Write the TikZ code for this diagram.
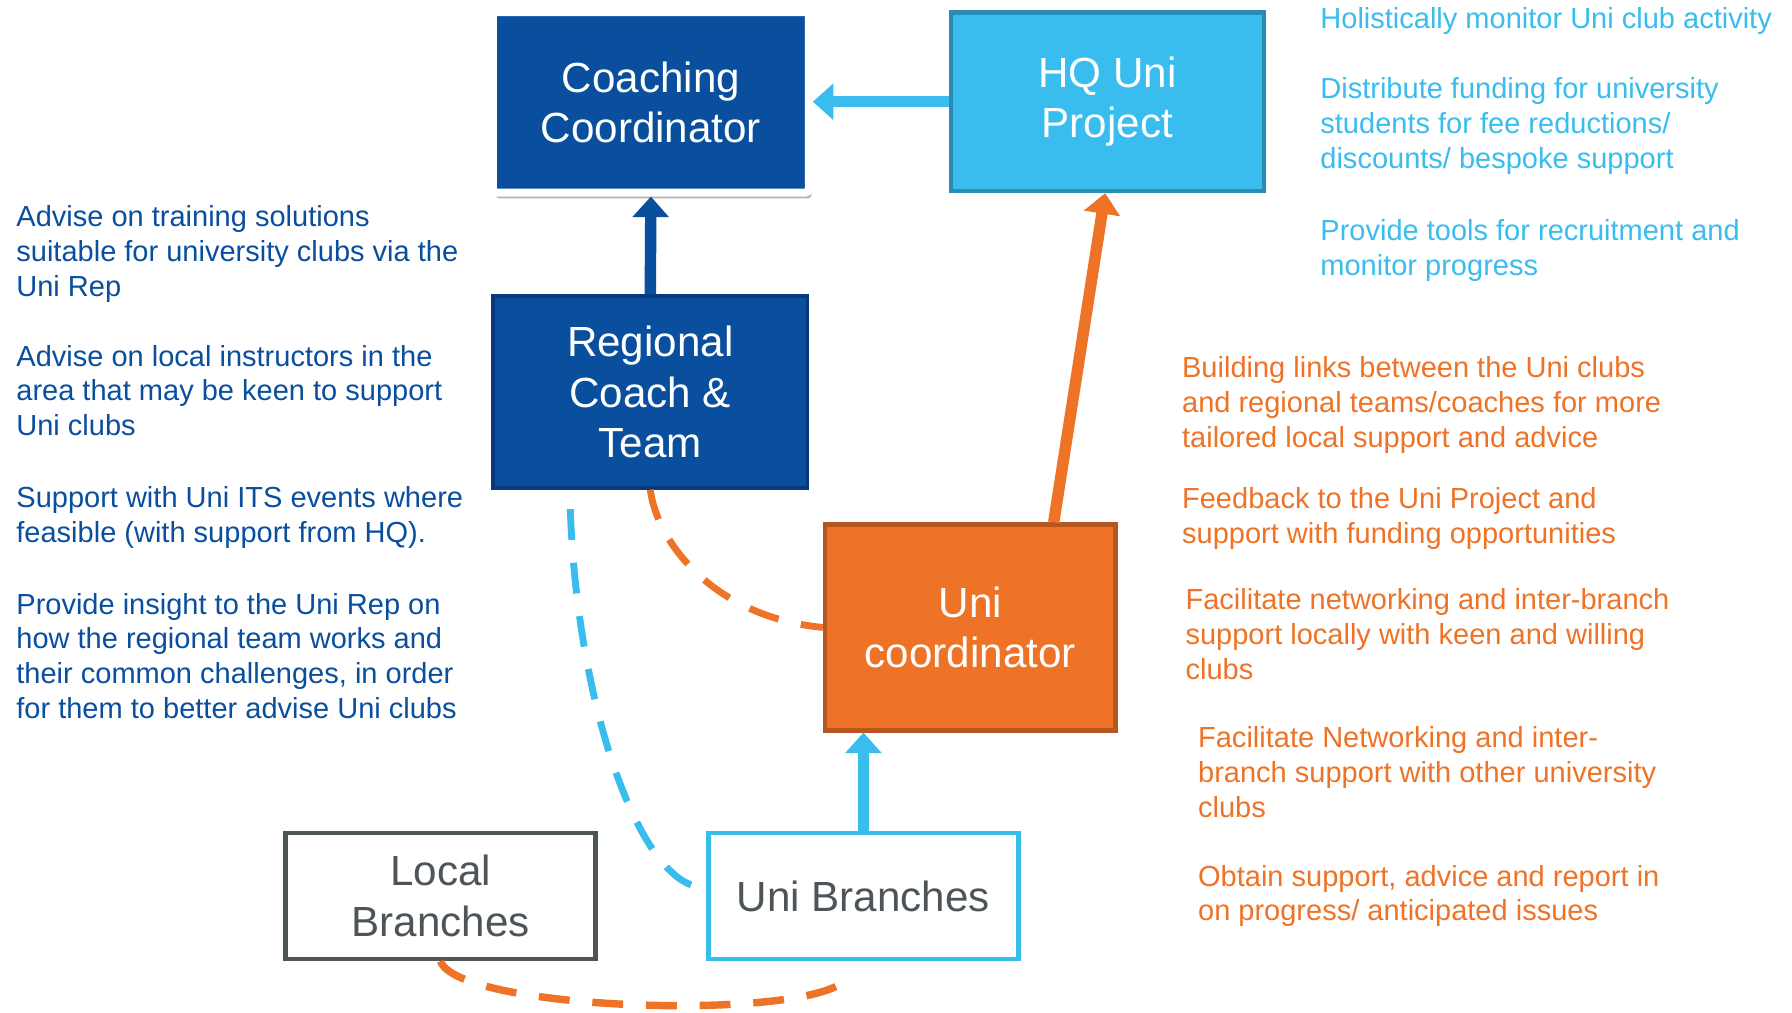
\documentclass[tikz,border=0pt]{standalone}
\usepackage{fontspec}
\setmainfont{Liberation Sans}
\usetikzlibrary{arrows.meta,shadows}
\definecolor{coachblue}{HTML}{0A4F9E}
\definecolor{coachedge}{HTML}{08397A}
\definecolor{hqblue}{HTML}{38BDEE}
\definecolor{hqedge}{HTML}{2A8BB5}
\definecolor{uniorange}{HTML}{EE7326}
\definecolor{uniedge}{HTML}{B7561E}
\definecolor{branchgrey}{HTML}{4D5559}
\begin{document}
\begin{tikzpicture}[
      x=0.02cm, y=0.02cm,
      B/.style={draw, line width=0.08cm, inner sep=0pt, align=center, text=white, font=\fontsize{21}{25}\selectfont},
      T/.style={anchor=north west, align=left, inner sep=0pt, font=\fontsize{14.45}{17.36}\selectfont},
      A/.style={line width=0.2cm, -{Triangle[length=0.36cm, width=0.62cm]}},
      D/.style={line width=0.12cm, dash pattern=on 0.54cm off 0.4cm}
    ]
    \path[use as bounding box, fill=white] (0,0) rectangle (1568,-886);
    \node [B, fill=coachblue, draw=white, line width=0.14cm, rounded corners=0.06cm, minimum width=5.53cm, minimum height=3.16cm,
      drop shadow={shadow xshift=0.05cm, shadow yshift=-0.1cm, opacity=0.3, fill=black}] (coach) at (569.5,-89.5) {Coaching\\Coordinator};
    \node [B, fill=hqblue, draw=hqedge, minimum width=5.48cm, minimum height=3.12cm] (hq) at (969,-89) {HQ Uni\\Project};
    \node [B, fill=coachblue, draw=coachedge, line width=0.06cm, minimum width=5.5cm, minimum height=3.36cm] (regional) at (569,-343) {Regional\\Coach \&\\Team};
    \node [B, fill=uniorange, draw=uniedge, minimum width=5.08cm, minimum height=3.6cm] (unic) at (849,-549) {Uni\\coordinator};
    \node [B, fill=white, draw=hqblue, text=branchgrey, minimum width=5.42cm, minimum height=2.2cm] (unibr) at (755.5,-784) {Uni Branches};
    \node [B, fill=white, draw=branchgrey, text=branchgrey, minimum width=5.42cm, minimum height=2.2cm] (localbr) at (385.5,-784) {Local\\Branches};
    \draw [A, hqblue] (hq.west) -- (hq.west -| coach.east);
    \draw [A, coachblue] (regional.north) -- (coach.south);
    \draw [A, uniorange] ([xshift=1.46cm]unic.north) -- ([xshift=-0.04cm]hq.south);
    \draw [A, hqblue] (unibr.north) -- (unibr.north |- unic.south);
    \draw [D, uniorange] (regional.south) .. controls (575,-475) and (625,-540) .. (unic.west);
    \draw [D, hqblue] ([shift={(-1.4cm,-0.34cm)}]regional.south) .. controls (505,-620) and (560,-770) .. ([shift={(-0.12cm,0.16cm)}]unibr.west);
    \draw [D, uniorange, line width=0.13cm] (localbr.south) .. controls (400,-885) and (720,-895) .. ([shift={(-0.25cm,-0.26cm)}]unibr.south);
    \node [T, coachblue] (adv1) at (14,-179.5) {Advise on training solutions\\suitable for university clubs via the\\Uni Rep};
    \node [T, coachblue] (adv2) at (14,-301.5) {Advise on local instructors in the\\area that may be keen to support\\Uni clubs};
    \node [T, coachblue] (adv3) at (14,-425.5) {Support with Uni ITS events where\\feasible (with support from HQ).};
    \node [T, coachblue] (adv4) at (14,-518.5) {Provide insight to the Uni Rep on\\how the regional team works and\\their common challenges, in order\\for them to better advise Uni clubs};
    \node [T, hqblue] (hq1) at (1155,-6.5) {Holistically monitor Uni club activity};
    \node [T, hqblue] (hq2) at (1155,-67.5) {Distribute funding for university\\students for fee reductions/\\discounts/ bespoke support};
    \node [T, hqblue] (hq3) at (1155,-191.5) {Provide tools for recruitment and\\monitor progress};
    \node [T, uniorange] (uc1) at (1034,-311.5) {Building links between the Uni clubs\\and regional teams/coaches for more\\tailored local support and advice};
    \node [T, uniorange] (uc2) at (1034,-426.5) {Feedback to the Uni Project and\\support with funding opportunities};
    \node [T, uniorange] (uc3) at (1037,-514.5) {Facilitate networking and inter-branch\\support locally with keen and willing\\clubs};
    \node [T, uniorange] (uc4) at (1048,-635.5) {Facilitate Networking and inter-\\branch support with other university\\clubs};
    \node [T, uniorange] (uc5) at (1048,-756.5) {Obtain support, advice and report in\\on progress/ anticipated issues};
  \end{tikzpicture}
\end{document}
